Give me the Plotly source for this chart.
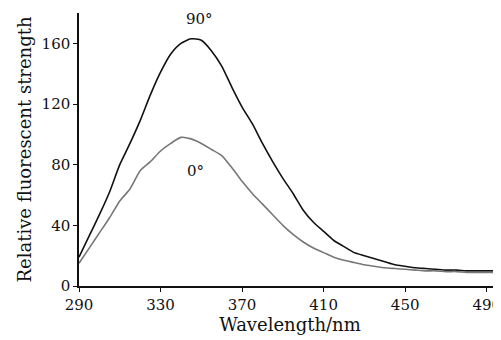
import plotly.graph_objects as go

wavelength = [290, 295, 300, 305, 310, 315, 320, 325, 330, 335, 340, 345, 350, 355, 360,
              365, 370, 375, 380, 385, 390, 395, 400, 405, 410, 415, 420, 425, 430, 435,
              440, 445, 450, 455, 460, 465, 470, 475, 480, 485, 490, 497]
strength_90 = [19, 33, 47, 62, 80, 94, 109, 126, 141, 153, 160, 163, 162, 155, 145,
               131, 118, 107, 94, 82, 71, 61, 50, 42, 36, 30, 26, 22, 20, 18,
               16, 14, 13, 12, 11.5, 11, 10.5, 10.5, 10, 10, 10, 10]
strength_0 = [15, 25, 35, 45, 56, 64, 76, 82, 89, 94, 98, 97, 94, 90, 86,
              78, 69, 61, 54, 47, 40, 34, 29, 25, 22, 19, 17, 15.5, 14, 13,
              12, 11.5, 11, 10.5, 10, 10, 9.5, 9.5, 9, 9, 9, 9]
x_ticks = [290, 330, 370, 410, 450, 490]
y_ticks = [0, 40, 80, 120, 160]
labels = ["90°", "0°"]
label_x = [349, 347]
label_y = [176, 76]

FONT = "DejaVu Serif"

fig = go.Figure()
fig.add_trace(go.Scatter(x=wavelength, y=strength_90, mode="lines",
                         line=dict(color="#111111", width=1.6, shape="spline", smoothing=0.6),
                         showlegend=False))
fig.add_trace(go.Scatter(x=wavelength, y=strength_0, mode="lines",
                         line=dict(color="#777777", width=1.6, shape="spline", smoothing=0.6),
                         showlegend=False))
for t, lx, ly in zip(labels, label_x, label_y):
    fig.add_annotation(x=lx, y=ly, text=t, showarrow=False,
                       font=dict(family=FONT, size=15, color="#111"))

# the page body has an 8px default margin, so the figure is offset by 8px
fig.update_layout(
    width=493, height=332,
    margin=dict(l=71, r=0, t=5, b=54),
    plot_bgcolor="white", paper_bgcolor="white",
    font=dict(family=FONT, size=15, color="#111"),
    xaxis=dict(range=[290, 497], tickvals=x_ticks, showline=True, linecolor="#111",
               linewidth=1.5, ticks="outside", ticklen=4, tickcolor="#111",
               showgrid=False, zeroline=False, ticklabeloverflow="allow",
               title=dict(text="Wavelength/nm", standoff=6)),
    yaxis=dict(range=[0, 180], tickvals=y_ticks, showline=True, linecolor="#111",
               linewidth=1.5, ticks="outside", ticklen=4, tickcolor="#111",
               showgrid=False, zeroline=False,
               title=dict(text="Relative fluorescent strength", standoff=5)),
)
fig.write_html("out.html")
